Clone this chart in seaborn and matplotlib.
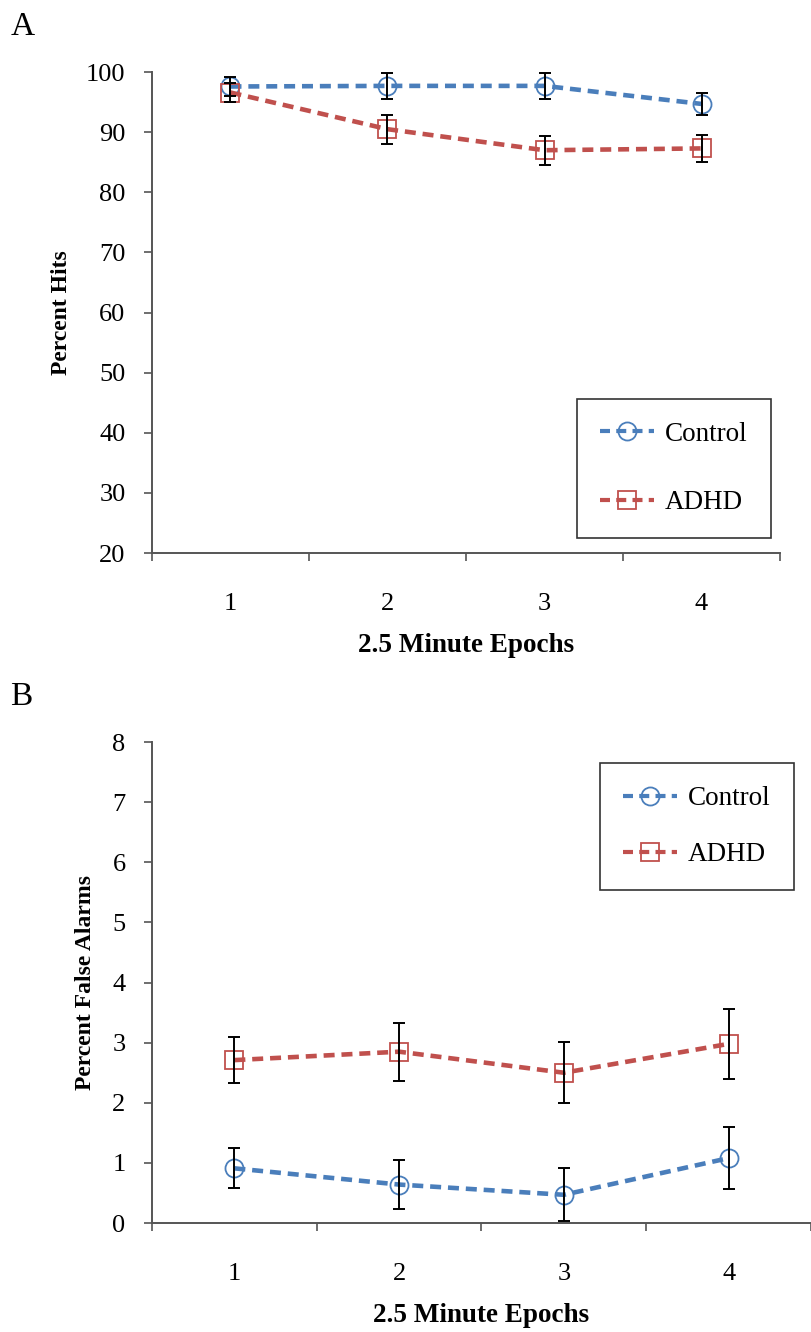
import matplotlib.pyplot as plt
import seaborn as sns
import pandas as pd

epochs = [1, 2, 3, 4]
groups = ["Control", "ADHD"]

hits_control = [97.6, 97.7, 97.7, 94.7]
hits_control_err = [1.6, 2.1, 2.1, 1.9]
hits_adhd = [96.6, 90.5, 87.0, 87.3]
hits_adhd_err = [1.5, 2.4, 2.4, 2.3]

fa_control = [0.91, 0.64, 0.47, 1.08]
fa_control_err = [0.33, 0.41, 0.44, 0.51]
fa_adhd = [2.71, 2.85, 2.50, 2.98]
fa_adhd_err = [0.38, 0.48, 0.51, 0.58]

sns.set_style("ticks")
plt.rcParams['font.family'] = ['Liberation Serif', 'DejaVu Serif']
plt.rcParams['text.color'] = 'black'
plt.rcParams['axes.labelcolor'] = 'black'
plt.rcParams['xtick.labelcolor'] = 'black'
plt.rcParams['ytick.labelcolor'] = 'black'

colors = {"Control": "#4a7ebb", "ADHD": "#c0504d"}
markers = {"Control": "o", "ADHD": "s"}


def draw_panel(ax, values, errors, ylim, yticks, ylabel, label_x, legend_anchor, spacing):
    rows = []
    for g in groups:
        for e, v in zip(epochs, values[g]):
            rows.append({"Epoch": e, "Value": v, "Group": g})
    df = pd.DataFrame(rows)

    for g in groups:
        sub = df[df["Group"] == g]
        sns.lineplot(data=sub, x="Epoch", y="Value", ax=ax, color=colors[g],
                     linewidth=3.3, linestyle=(0, (2.4, 1.5)), marker=markers[g],
                     markersize=13, markerfacecolor="none", markeredgecolor=colors[g],
                     markeredgewidth=1.3, label=g, zorder=2)
        ax.errorbar(sub["Epoch"], sub["Value"], yerr=errors[g], fmt="none",
                    ecolor="black", elinewidth=1.4, capsize=4, capthick=1.4, zorder=3)

    ax.set_xlim(0.5, 4.5)
    ax.set_ylim(*ylim)
    ax.set_yticks(yticks)
    ax.set_xticks(epochs)
    ax.set_xticks([0.5, 1.5, 2.5, 3.5, 4.5], minor=True)
    ax.tick_params(axis="x", which="major", length=0, pad=29, labelsize=19)
    ax.tick_params(axis="x", which="minor", length=6, width=1.2, color="#555555")
    ax.tick_params(axis="y", length=6, width=1.2, color="#555555", pad=13, labelsize=19)
    for s in ["left", "bottom"]:
        ax.spines[s].set_color("#555555")
        ax.spines[s].set_linewidth(1.4)
    sns.despine(ax=ax)

    ax.set_xlabel("2.5 Minute Epochs", fontsize=19.5, fontweight="bold", labelpad=13)
    ax.set_ylabel(ylabel, fontsize=17, fontweight="bold")
    ax.yaxis.set_label_coords(label_x, 0.5)

    leg = ax.legend(loc=legend_anchor[0], bbox_to_anchor=legend_anchor[1],
                    frameon=True, fancybox=False, fontsize=19.5, handlelength=2.0,
                    labelspacing=spacing, borderpad=0.85, handletextpad=0.4,
                    borderaxespad=0)
    leg.get_frame().set_edgecolor("black")
    leg.get_frame().set_linewidth(1.2)
    for h in leg.get_lines():
        h.set_linewidth(3.0)


fig = plt.figure(figsize=(8.11, 13.32), dpi=100)
ax1 = fig.add_axes([0.1874, 0.5848, 0.7744, 0.3611])
ax2 = fig.add_axes([0.1874, 0.0818, 0.8126, 0.3611])

draw_panel(ax1, {"Control": hits_control, "ADHD": hits_adhd},
           {"Control": hits_control_err, "ADHD": hits_adhd_err},
           (20, 100), range(20, 101, 10), "Percent Hits", -0.128,
           ("lower left", (0.677, 0.031)), 1.6)
draw_panel(ax2, {"Control": fa_control, "ADHD": fa_adhd},
           {"Control": fa_control_err, "ADHD": fa_adhd_err},
           (0, 8), range(0, 9), "Percent False Alarms", -0.085,
           ("upper left", (0.68, 0.956)), 1.15)

fig.text(0.013, 0.98, "A", fontsize=24, va="center", ha="left")
fig.text(0.013, 0.477, "B", fontsize=24, va="center", ha="left")

fig.savefig("out.png", dpi=100)
